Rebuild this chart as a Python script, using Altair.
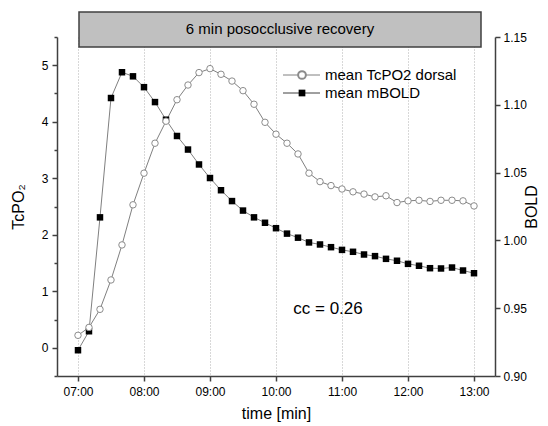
import altair as alt
import pandas as pd

# time in hours (07:00 .. 13:00, every 10 min)
minutes = list(range(0, 361, 10))
tcpo2 = [0.22, 0.36, 0.68, 1.20, 1.82, 2.53, 3.09, 3.62, 4.01, 4.39, 4.65, 4.87,
         4.94, 4.84, 4.72, 4.55, 4.31, 3.99, 3.78, 3.62, 3.43, 3.09, 2.94, 2.87,
         2.81, 2.76, 2.72, 2.67, 2.69, 2.57, 2.60, 2.61, 2.59, 2.61, 2.61, 2.60, 2.51]
bold = [0.919, 0.933, 1.017, 1.105, 1.124, 1.121, 1.113, 1.102, 1.089, 1.077, 1.067, 1.056,
        1.046, 1.037, 1.029, 1.022, 1.017, 1.013, 1.009, 1.005, 1.002, 0.9985, 0.997, 0.995,
        0.993, 0.9916, 0.9896, 0.9884, 0.9864, 0.985, 0.9827, 0.9813, 0.9795, 0.9793, 0.980, 0.9778, 0.9758]

x_ticks = [7 + 0.5 * k for k in range(13)]
left_ticks = [-0.5 + 0.5 * k for k in range(13)]
right_ticks = [round(0.9 + 0.025 * k, 3) for k in range(11)]

df = pd.DataFrame({"t": [7 + m / 60 for m in minutes], "tcpo2": tcpo2, "bold": bold})

FONT = "Liberation Sans"
AX = "#404040"
LEFT_DOMAIN = [-0.5, 5.5]

x_enc = alt.X(
    "t:Q",
    scale=alt.Scale(domain=[6.682, 13.318], nice=False, zero=False),
    axis=alt.Axis(
        title="time [min]", values=x_ticks,
        labelExpr="datum.value % 1 === 0 ? (datum.value < 10 ? '0' : '') + datum.value + ':00' : ''",
        tickSize={"condition": {"test": "datum.value % 1 === 0", "value": 5}, "value": 3},
        grid=True,
        gridOpacity={"condition": {"test": "datum.value % 1 === 0", "value": 1}, "value": 0},
        gridDash=[1, 2], gridColor="#b0b0b0", gridWidth=1,
        titlePadding=8, labelPadding=5, labelOverlap=False,
    ),
)

# layer 1: TcPO2 line with left axis
tc_line = alt.Chart(df).mark_line(color="#808080", strokeWidth=1).encode(
    x=x_enc,
    y=alt.Y("tcpo2:Q",
            scale=alt.Scale(domain=LEFT_DOMAIN, nice=False, zero=False),
            axis=alt.Axis(orient="left", title="TcPO\u2082", values=left_ticks,
                          labelExpr="abs(round(datum.value*10) % 10) === 0 ? format(datum.value, '.0f') : ''",
                          tickSize={"condition": {"test": "abs(round(datum.value*10) % 10) === 0", "value": 5}, "value": 3},
                          grid=False, titlePadding=15, labelPadding=4, labelOverlap=False)),
)

# layer 2: BOLD with right axis
bold_line = alt.Chart(df).mark_line(color="#808080", strokeWidth=1).encode(
    x="t:Q",
    y=alt.Y("bold:Q",
            scale=alt.Scale(domain=[0.9, 1.15], nice=False, zero=False),
            axis=alt.Axis(orient="right", title="BOLD", titleAngle=-90, values=right_ticks,
                          labelExpr="abs(round(datum.value*1000) % 50) === 0 ? format(datum.value, '.2f') : ''",
                          tickSize={"condition": {"test": "abs(round(datum.value*1000) % 50) === 0", "value": 5}, "value": 3},
                          grid=False, titlePadding=13, labelPadding=3, labelOverlap=False)),
)
bold_pts = alt.Chart(df).mark_point(shape="square", filled=True, color="black", size=42, opacity=1).encode(
    x="t:Q", y="bold:Q")

# layer 3: TcPO2 circles on top (same domain as the left axis)
tc_pts = alt.Chart(df).mark_point(shape="circle", filled=True, fill="white", stroke="#8c8c8c",
                                  strokeWidth=1, size=42, opacity=1).encode(
    x="t:Q",
    y=alt.Y("tcpo2:Q", scale=alt.Scale(domain=LEFT_DOMAIN, nice=False, zero=False), axis=None))

one = pd.DataFrame({"a": [0]})
box = alt.Chart(one).mark_rect(fill="#c0c0c0", stroke=AX, strokeWidth=1.5).encode(
    x=alt.value(22), x2=alt.value(424), y=alt.value(-25), y2=alt.value(10))
box_txt = alt.Chart(one).mark_text(text="6 min posocclusive recovery", font=FONT, fontSize=15,
                                   color="black").encode(x=alt.value(223), y=alt.value(-8))
cc_txt = alt.Chart(one).mark_text(text="cc = 0.26", font=FONT, fontSize=17, color="black").encode(
    x=alt.value(271), y=alt.value(272))

# legend
leg_line1 = alt.Chart(one).mark_rule(color="#808080", strokeWidth=1).encode(
    x=alt.value(226), x2=alt.value(263), y=alt.value(38))
leg_pt1 = alt.Chart(one).mark_point(shape="circle", filled=True, fill="white", stroke="#8c8c8c",
                                    size=60, opacity=1).encode(x=alt.value(245), y=alt.value(38))
leg_txt1 = alt.Chart(one).mark_text(text="mean TcPO2 dorsal", font=FONT, fontSize=15, align="left",
                                    color="black").encode(x=alt.value(268), y=alt.value(38))
leg_line2 = alt.Chart(one).mark_rule(color="#404040", strokeWidth=1).encode(
    x=alt.value(226), x2=alt.value(263), y=alt.value(56))
leg_pt2 = alt.Chart(one).mark_point(shape="square", filled=True, color="black", size=45,
                                    opacity=1).encode(x=alt.value(245), y=alt.value(56))
leg_txt2 = alt.Chart(one).mark_text(text="mean mBOLD", font=FONT, fontSize=15, align="left",
                                    color="black").encode(x=alt.value(268), y=alt.value(56))

chart = alt.layer(
    tc_line, alt.layer(bold_line, bold_pts), tc_pts, box, box_txt, cc_txt,
    leg_line1, leg_pt1, leg_txt1, leg_line2, leg_pt2, leg_txt2,
).resolve_scale(y="independent").properties(
    width=438, height=339,
    autosize=alt.AutoSizeParams(type="none"),
    padding={"left": 49, "top": 29, "right": 45, "bottom": 52},
    background="white",
).configure_view(stroke=None).configure_axis(
    domainColor=AX, domainWidth=1.5, tickColor=AX, tickWidth=1.5,
    labelFont=FONT, labelFontSize=12, labelColor="black",
    titleFont=FONT, titleFontSize=16, titleFontWeight="normal", titleColor="black",
)

chart.save("out.html", embed_options={"renderer": "svg", "actions": False})
